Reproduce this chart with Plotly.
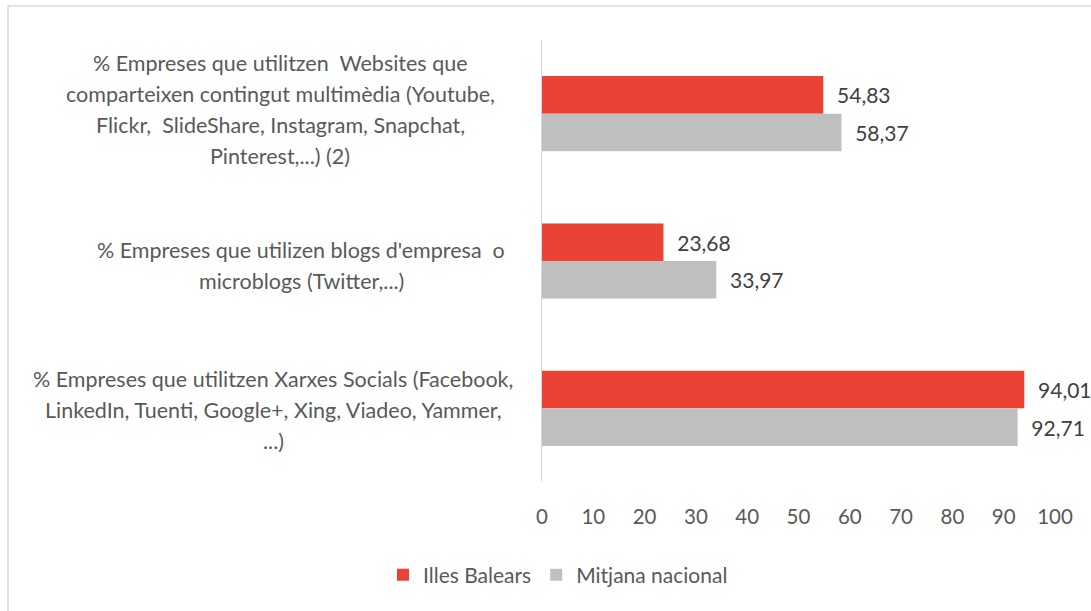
import plotly.graph_objects as go

categories = [
    "% Empreses que utilitzen  Websites que comparteixen contingut multimèdia (Youtube, Flickr,  SlideShare, Instagram, Snapchat, Pinterest,...) (2)",
    "% Empreses que utilizen blogs d'empresa  o microblogs (Twitter,...)",
    "% Empreses que utilitzen Xarxes Socials (Facebook, LinkedIn, Tuenti, Google+, Xing, Viadeo, Yammer, ...)",
]
category_lines = [
    ["% Empreses que utilitzen  Websites que",
     "comparteixen contingut multimèdia (Youtube,",
     "Flickr,  SlideShare, Instagram, Snapchat,",
     "Pinterest,...) (2)"],
    ["% Empreses que utilizen blogs d'empresa  o",
     "microblogs (Twitter,...)"],
    ["% Empreses que utilitzen Xarxes Socials (Facebook,",
     "LinkedIn, Tuenti, Google+, Xing, Viadeo, Yammer,",
     "...)"],
]
series_names = ["Illes Balears", "Mitjana nacional"]
illes_balears = [54.83, 23.68, 94.01]
mitjana_nacional = [58.37, 33.97, 92.71]
x_ticks = [0, 10, 20, 30, 40, 50, 60, 70, 80, 90, 100]

W, H = 1091, 611
L, R, T, B = 542, 36, 40, 129
pw = W - L - R
ph = H - T - B

def px_to_xpaper(px):
    return (px - L) / pw

def py_to_ypaper(py):
    return (H - B - py) / ph

FONT = "Lato, 'Open Sans', sans-serif"
GREY = "#595959"

fig = go.Figure()
colors = ["#EA4335", "#BFBFBF"]
for name, vals, col in zip(series_names, [illes_balears, mitjana_nacional], colors):
    fig.add_trace(go.Bar(
        y=categories, x=vals, orientation="h", name=name,
        marker=dict(color=col, line=dict(width=0)),
        text=["  " + f"{v:.2f}".replace(".", ",") for v in vals],
        textposition="outside", cliponaxis=False,
        textfont=dict(family=FONT, size=21, color="#404040"),
    ))

annotations = []
centers_px = [280, 301, 273]
block_shift = [4, -4, -2]
line_h = 31
for cat, lines, cx, bs in zip(categories, category_lines, centers_px, block_shift):
    n = len(lines)
    for i, ln in enumerate(lines):
        annotations.append(dict(
            x=px_to_xpaper(cx), xref="paper", y=cat, yref="y",
            text=ln, showarrow=False, xanchor="center", yanchor="middle",
            yshift=((n - 1) / 2 - i) * line_h + bs,
            font=dict(family=FONT, size=21.5, color=GREY),
        ))

fig.update_layout(
    width=W, height=H,
    margin=dict(l=L, r=R, t=T, b=B),
    paper_bgcolor="white", plot_bgcolor="white",
    barmode="group", bargap=0.49, bargroupgap=0,
    showlegend=True,
    legend=dict(orientation="h", x=px_to_xpaper(558), xanchor="center",
                y=py_to_ypaper(575), yanchor="middle",
                font=dict(family=FONT, size=21, color=GREY),
                itemwidth=30, traceorder="normal"),
    xaxis=dict(range=[0, 100], tickvals=x_ticks, showgrid=False, zeroline=False,
               showline=False, ticks="", ticklabelstandoff=20,
               tickfont=dict(family=FONT, size=20.5, color=GREY)),
    yaxis=dict(autorange="reversed", showticklabels=False, showgrid=False,
               zeroline=False, showline=True, linecolor="#D9D9D9", linewidth=1,
               ticks=""),
    annotations=annotations,
    shapes=[dict(type="rect", xref="paper", yref="paper",
                 x0=px_to_xpaper(8), x1=px_to_xpaper(1095),
                 y0=py_to_ypaper(615), y1=py_to_ypaper(6),
                 line=dict(color="#D9D9D9", width=1.5), fillcolor="rgba(0,0,0,0)",
                 layer="below")],
)

fig.write_html("out.html", config={"displayModeBar": False},
               post_script="document.body.style.margin='0';document.body.style.overflow='hidden';")
